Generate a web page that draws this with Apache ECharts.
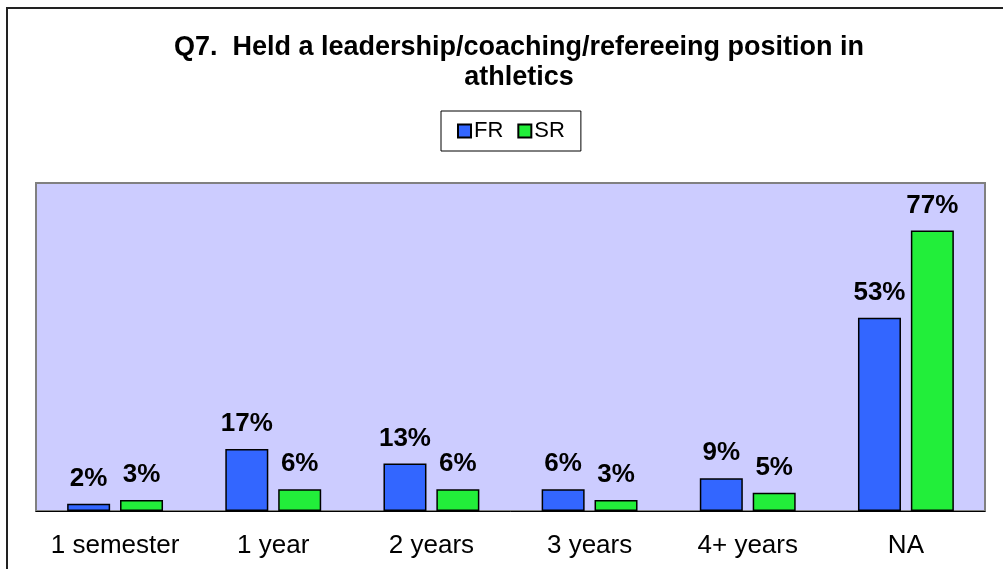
<!DOCTYPE html>
<html lang="en">
<head>
    <meta charset="UTF-8">
    <title>Q7 bar chart</title>
    <script type="text/javascript" src="https://cdn.jsdelivr.net/npm/echarts@6/dist/echarts.min.js"></script>
    <style>
        html, body {
            width: 100%;
            height: 100%;
            margin: 0;
            padding: 0;
            background: #fff;
        }
        #main {
            width: 1003px;
            height: 569px;
        }
    </style>
</head>
<body>
    <div id="main"></div>
    <script>
        var categories = ['1 semester', '1 year', '2 years', '3 years', '4+ years', 'NA'];
        var frValues = [2, 17, 13, 6, 9, 53];
        var srValues = [3, 6, 6, 3, 5, 77];

        var myChart = echarts.init(document.getElementById('main'));

        var labelStyle = {
            show: true,
            position: 'top',
            distance: 12,
            formatter: '{c}%',
            color: '#000',
            fontWeight: 'bold',
            fontSize: 26,
            fontFamily: 'Liberation Sans, Arial, sans-serif'
        };

        var option = {
            backgroundColor: '#fff',
            textStyle: { fontFamily: 'Liberation Sans, Arial, sans-serif' },
            graphic: [{
                type: 'rect',
                shape: { x: 7, y: 8, width: 1020, height: 600 },
                style: { fill: 'none', stroke: '#222', lineWidth: 2 },
                silent: true
            }],
            title: {
                text: 'Q7.  Held a leadership/coaching/refereeing position in\nathletics',
                left: 514,
                textAlign: 'center',
                top: 28,
                textStyle: {
                    color: '#000',
                    fontSize: 27,
                    fontWeight: 'bold',
                    lineHeight: 30,
                    fontFamily: 'Liberation Sans, Arial, sans-serif'
                }
            },
            legend: {
                left: 441,
                top: 111,
                padding: [9, 16],
                itemWidth: 13,
                itemHeight: 13,
                itemGap: 14,
                icon: 'rect',
                borderColor: '#000',
                borderWidth: 1,
                textStyle: { color: '#000', fontSize: 22, padding: [0, 0, 0, -2] }
            },
            grid: {
                left: 36,
                right: 18,
                top: 183,
                bottom: 58,
                show: true,
                backgroundColor: '#ccccff',
                borderColor: '#808080',
                borderWidth: 2,
                containLabel: false
            },
            xAxis: {
                type: 'category',
                data: categories,
                axisTick: { show: false },
                axisLine: { lineStyle: { color: '#000', width: 1 } },
                axisLabel: {
                    color: '#000',
                    fontSize: 26,
                    margin: 22,
                    interval: 0
                }
            },
            yAxis: {
                type: 'value',
                min: 0,
                max: 90,
                show: false,
                splitLine: { show: false }
            },
            series: [{
                name: 'FR',
                type: 'bar',
                data: frValues,
                barWidth: 43,
                barGap: '23%',
                itemStyle: { color: '#3366ff', borderColor: '#000', borderWidth: 1.5 },
                label: labelStyle
            }, {
                name: 'SR',
                type: 'bar',
                data: srValues,
                barWidth: 43,
                itemStyle: { color: '#22ee3a', borderColor: '#000', borderWidth: 1.5 },
                label: labelStyle
            }]
        };
        myChart.setOption(option);

        window.addEventListener('resize', function() {
            myChart.resize();
        });
    </script>
</body>
</html>
